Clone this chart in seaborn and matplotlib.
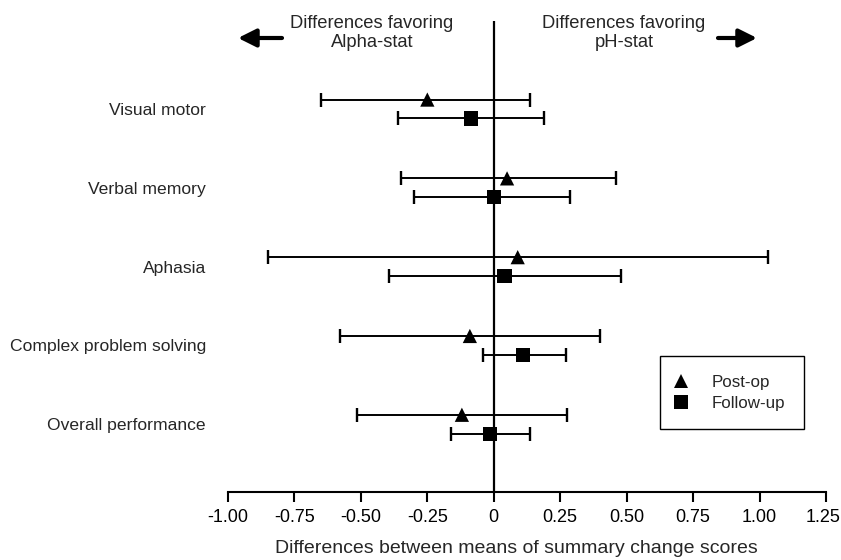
import pandas as pd
import matplotlib.pyplot as plt
import matplotlib.transforms as mtransforms
import seaborn as sns

sns.set_style('white')
plt.rcParams['font.family'] = ['Liberation Sans', 'DejaVu Sans']
plt.rcParams['font.size'] = 12

# values
measures = ['Visual motor', 'Verbal memory', 'Aphasia',
            'Complex problem solving', 'Overall performance']
post_mean = [-0.25, 0.05, 0.09, -0.09, -0.12]
post_lo = [-0.65, -0.35, -0.85, -0.58, -0.515]
post_hi = [0.135, 0.46, 1.03, 0.40, 0.275]
fup_mean = [-0.085, 0.0, 0.04, 0.11, -0.015]
fup_lo = [-0.36, -0.30, -0.395, -0.04, -0.16]
fup_hi = [0.19, 0.285, 0.48, 0.27, 0.135]
xticks = [-1.0, -0.75, -0.5, -0.25, 0, 0.25, 0.5, 0.75, 1.0, 1.25]
xticklabels = ['-1.00', '-0.75', '-0.50', '-0.25', '0',
               '0.25', '0.50', '0.75', '1.00', '1.25']

rows = []
for i, m in enumerate(measures):
    rows.append({'measure': m, 'Time': 'Post-op', 'pos': i - 0.12,
                 'mean': post_mean[i], 'lo': post_lo[i], 'hi': post_hi[i]})
    rows.append({'measure': m, 'Time': 'Follow-up', 'pos': i + 0.12,
                 'mean': fup_mean[i], 'lo': fup_lo[i], 'hi': fup_hi[i]})
df = pd.DataFrame(rows)

fig = plt.figure(figsize=(8.41, 5.6), dpi=100)
ax = fig.add_axes([228 / 841, 1 - 492 / 560, 598 / 841, 471 / 560])

ax.axvline(0, color='black', lw=1.6, zorder=1)
ax.errorbar(df['mean'], df['pos'],
            xerr=[df['mean'] - df['lo'], df['hi'] - df['mean']],
            fmt='none', ecolor='black', elinewidth=1.4,
            capsize=5, capthick=1.7, zorder=2)
sns.scatterplot(data=df, x='mean', y='pos', style='Time',
                markers={'Post-op': '^', 'Follow-up': 's'},
                color='black', edgecolor='black', linewidth=0,
                s=105, ax=ax, zorder=3)

ax.set_xlim(-1.0, 1.25)
ax.set_ylim(4.86, -1.117)
ax.set_xticks(xticks)
ax.set_xticklabels(xticklabels)
ax.set_yticks(range(len(measures)))
ax.set_yticklabels(measures)
ax.tick_params(axis='x', direction='out', length=7, width=1.5,
               pad=5, labelsize=13, colors='black', bottom=True)
ax.tick_params(axis='y', length=0, pad=16, labelsize=12.6)
sns.despine(ax=ax, left=True)
ax.spines['bottom'].set_linewidth(1.5)
ax.spines['bottom'].set_color('black')

# keep the last tick label inside the canvas
last = ax.get_xticklabels()[-1]
last.set_transform(last.get_transform() +
                   mtransforms.ScaledTranslation(-3 / 100, 0, fig.dpi_scale_trans))

ax.set_xlabel('Differences between means of summary change scores',
              fontsize=14, va='center')
ax.xaxis.set_label_coords(0.482, -0.12)
ax.set_ylabel('')

handles, labels = ax.get_legend_handles_labels()
leg = ax.legend(handles, labels, loc='upper right',
                bbox_to_anchor=(804 / 841, 1 - 356 / 560),
                bbox_transform=fig.transFigure, borderaxespad=0,
                frameon=True, fancybox=False, framealpha=1,
                edgecolor='black', handlelength=0.2, handletextpad=1.75,
                borderpad=1.1, labelspacing=0.35, fontsize=12.2)
leg.get_frame().set_linewidth(1.0)

fig.text(372 / 841, 1 - 33 / 560, 'Differences favoring\nAlpha-stat',
         ha='center', va='center', fontsize=13.2, linespacing=1.2)
fig.text(624 / 841, 1 - 33 / 560, 'Differences favoring\npH-stat',
         ha='center', va='center', fontsize=13.2, linespacing=1.2)

arrow = dict(arrowstyle='-|>,head_length=0.9,head_width=0.45',
             lw=3, color='black', shrinkA=0, shrinkB=0, mutation_scale=12)
ax.annotate('', xy=(238, 560 - 38), xytext=(282, 560 - 38),
            xycoords='figure pixels', textcoords='figure pixels',
            arrowprops=arrow)
ax.annotate('', xy=(757, 560 - 38), xytext=(718, 560 - 38),
            xycoords='figure pixels', textcoords='figure pixels',
            arrowprops=arrow)

plt.savefig('out.png', dpi=100)
